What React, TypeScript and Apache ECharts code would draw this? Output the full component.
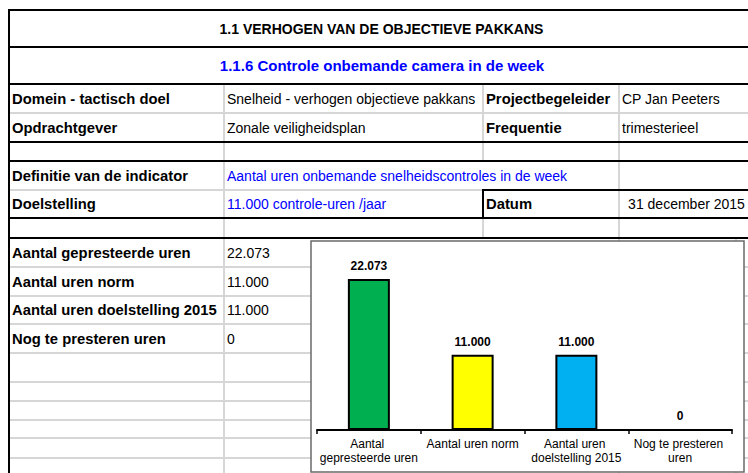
import React, { useEffect, useRef } from "react";
import * as echarts from "echarts";

// ---- data ----
const categories = [
  "Aantal gepresteerde uren",
  "Aantal uren norm",
  "Aantal uren doelstelling 2015",
  "Nog te presteren uren",
];
const values = [22073, 11000, 11000, 0];
const barColors = ["#00B050", "#FFFF00", "#00B0F0", "#FFFFFF"];

const titleText = "1.1 VERHOGEN VAN DE OBJECTIEVE PAKKANS";
const subtitleText = "1.1.6 Controle onbemande camera in de week";
const infoRow1 = ["Domein - tactisch doel", "Snelheid - verhogen objectieve pakkans", "Projectbegeleider", "CP Jan Peeters"];
const infoRow2 = ["Opdrachtgever", "Zonale veiligheidsplan", "Frequentie", "trimesterieel"];
const definitieRow = ["Definitie van de indicator", "Aantal uren onbemande snelheidscontroles in de week"];
const doelRow = ["Doelstelling", "11.000 controle-uren /jaar", "Datum", "31 december 2015"];

const FONT = '"Liberation Sans", Arial, sans-serif';
const fmt = (v: number) => String(v).replace(/\B(?=(\d{3})+(?!\d))/g, ".");

export default function App() {
  const ref = useRef<HTMLDivElement>(null);
  useEffect(() => {
    if (!ref.current) return;
    const chart = echarts.init(ref.current, null, { renderer: "svg" });

    const GREY = "#d6d6d6";
    const els: any[] = [];
    const line = (x1: number, y1: number, x2: number, y2: number, stroke: string, w = 2, z = 1) =>
      els.push({ type: "line", z, silent: true, shape: { x1, y1, x2, y2 }, style: { stroke, lineWidth: w } });
    const text = (t: string, x: number, y: number, opts: any = {}) =>
      els.push({
        type: "text",
        z: 3,
        silent: true,
        style: {
          text: t,
          x,
          y,
          fill: opts.fill || "#000",
          font: `${opts.bold ? "bold " : ""}${opts.size || 14}px ${FONT}`,
          align: opts.align || "left",
          verticalAlign: "middle",
        },
      });
    const LB = { bold: true, size: 14.8 };

    // grey grid lines
    line(9, 113, 760, 113, GREY);
    line(9, 190, 483, 190, GREY);
    [267, 296, 324, 353, 382, 401, 420, 438, 458].forEach((y) => line(9, y, 760, y, GREY));
    line(224, 84, 224, 480, GREY);
    line(483, 84, 483, 161, GREY);
    line(483, 218, 483, 238, GREY);
    line(619, 84, 619, 480, GREY);
    line(736, 238, 736, 480, GREY);

    // black lines
    [10, 47, 84, 142, 161, 218, 238].forEach((y) => line(8, y, 760, y, "#000", 2, 2));
    line(9, 9, 9, 480, "#000", 2, 2);
    line(483, 190, 760, 190, "#000", 2, 2);
    line(483, 189, 483, 219, "#000", 2, 2);

    // texts
    text(titleText, 381.5, 28.5, { bold: true, align: "center" });
    text(subtitleText, 382, 65.5, { bold: true, size: 15, align: "center", fill: "#0000ff" });
    const rowY = [98.5, 127.5];
    [infoRow1, infoRow2].forEach((r, i) => {
      text(r[0], 12, rowY[i], LB);
      text(r[1], 227, rowY[i]);
      text(r[2], 486, rowY[i], LB);
      text(r[3], 622, rowY[i]);
    });
    text(definitieRow[0], 12, 175.5, LB);
    text(definitieRow[1], 227, 175.5, { fill: "#0000ff" });
    text(doelRow[0], 12, 204, LB);
    text(doelRow[1], 227, 204, { fill: "#0000ff" });
    text(doelRow[2], 486, 204, LB);
    text(doelRow[3], 686.5, 204, { align: "center" });
    const valY = [252.5, 281.5, 310, 338.5];
    categories.forEach((c, i) => {
      text(c, 12, valY[i], LB);
      text(fmt(values[i]), 227, valY[i]);
    });

    // chart box
    els.push({
      type: "rect",
      z: 5,
      silent: true,
      shape: { x: 311, y: 241, width: 433, height: 231 },
      style: { fill: "#fff", stroke: "#6a6a6a", lineWidth: 1.5 },
    });

    chart.setOption({
      animation: false,
      backgroundColor: "#fff",
      graphic: { elements: els },
      grid: { left: 317, right: 16, top: 259, bottom: 43 },
      xAxis: {
        type: "category",
        data: categories,
        z: 10,
        axisLine: { lineStyle: { color: "#000", width: 2 } },
        axisTick: { show: true, length: 4, lineStyle: { color: "#000", width: 1.5 } },
        axisLabel: {
          color: "#000",
          fontSize: 12,
          fontFamily: FONT,
          lineHeight: 14,
          margin: 7,
          width: 100,
          overflow: "break",
          interval: 0,
        },
      },
      yAxis: {
        type: "value",
        min: 0,
        max: 25000,
        show: false,
        splitLine: { show: false },
      },
      series: [
        {
          type: "bar",
          z: 10,
          barWidth: 42,
          data: values.map((v, i) => ({ value: v, itemStyle: { color: barColors[i] } })),
          itemStyle: { borderColor: "#000", borderWidth: 2 },
          label: {
            show: true,
            position: "top",
            distance: 7,
            color: "#000",
            fontWeight: "bold",
            fontSize: 12,
            fontFamily: FONT,
            formatter: (p: any) => fmt(p.value),
          },
        },
      ],
    });
    return () => chart.dispose();
  }, []);
  return (
    <div
      ref={ref}
      style={{ position: "absolute", left: 0, top: 0, width: 748, height: 473, background: "#fff" }}
    />
  );
}
